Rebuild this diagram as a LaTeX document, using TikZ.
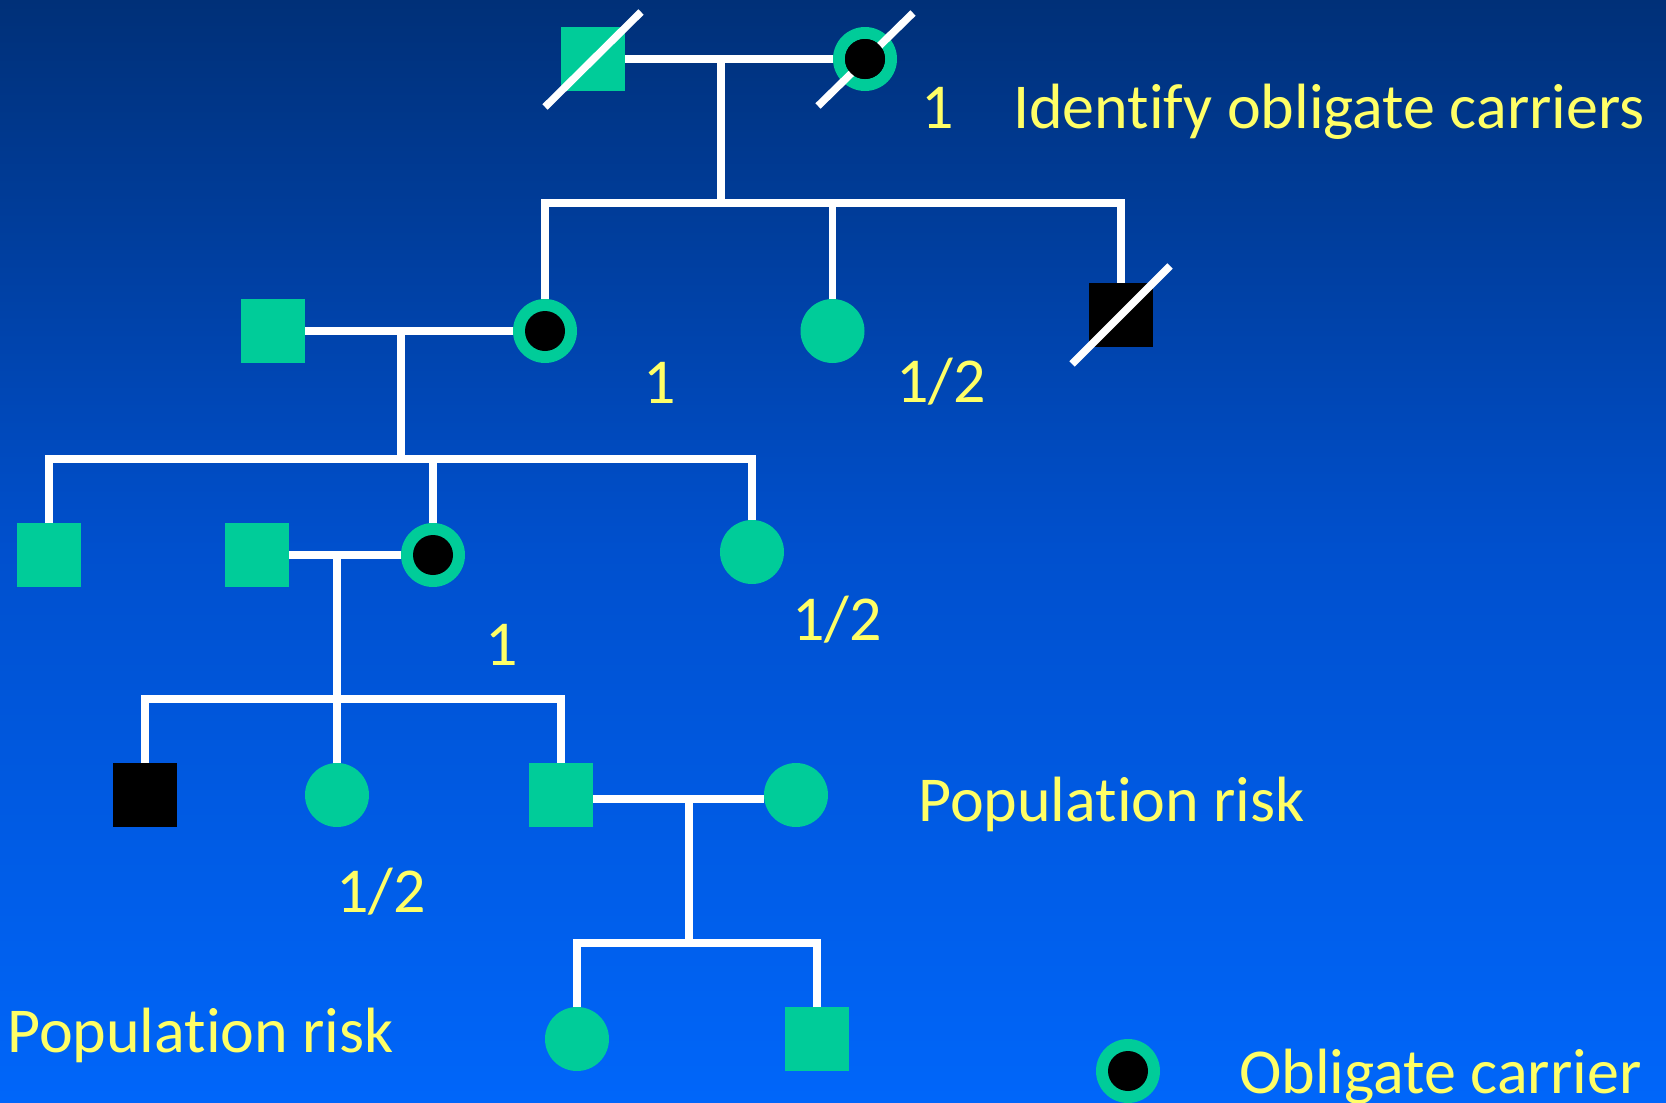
\documentclass[tikz,border=0pt]{standalone}
\usepackage{fontspec}
\setmainfont{Carlito}[Ligatures={NoCommon,NoContextual}]
\definecolor{pedgreen}{RGB}{0,204,153}
\definecolor{pedyellow}{RGB}{255,255,102}
\definecolor{bgtop}{RGB}{0,48,120}
\definecolor{bgmid}{RGB}{0,80,206}
\definecolor{bgbot}{RGB}{0,102,250}
\begin{document}
\begin{tikzpicture}[x=1pt,y=-1pt,
  male/.style={rectangle,minimum size=64pt,inner sep=0pt,fill=pedgreen},
  female/.style={circle,minimum size=64pt,inner sep=0pt,fill=pedgreen},
  affected/.style={fill=black},
  carrier/.style={female,path picture={\fill[black] (path picture bounding box.center) circle[radius=20pt];}},
  lnk/.style={draw=white,line width=7.5pt},
  slash/.style={draw=white,line width=7.5pt},
  lbl/.style={text=pedyellow,inner sep=0pt,font=\fontsize{64}{72}\selectfont}]
% background
\shade[top color=bgtop,bottom color=bgbot,middle color=bgmid] (0,0) rectangle (1666,1103);
\useasboundingbox (0,0) rectangle (1666,1103);

% generation I
\node[male] (I1) at (593,59) {};
\node[carrier] (I2) at (865,59) {};
\coordinate (m1) at (721,59);
\coordinate (s1) at (721,203);

% generation II
\node[male] (II0) at (273,331) {};
\node[carrier] (II1) at (545,331) {};
\node[female] (II2) at (832.5,331) {};
\node[male,affected] (II3) at (1121,315) {};
\coordinate (m2) at (401,331);
\coordinate (s2) at (401,459);

% generation III
\node[male] (III1) at (49,555) {};
\node[male] (III0) at (257,555) {};
\node[carrier] (III2) at (433,555) {};
\node[female] (III3) at (752,552) {};
\coordinate (m3) at (337,555);
\coordinate (s3) at (337,699);

% generation IV
\node[male,affected] (IV1) at (145,795) {};
\node[female] (IV2) at (337,795) {};
\node[male] (IV3) at (561,795) {};
\node[female] (IV4) at (796,795) {};
\coordinate (m4) at (689,799);
\coordinate (s4) at (689,943);

% generation V
\node[female] (V1) at (577,1039) {};
\node[male] (V2) at (817,1039) {};

% legend symbol
\node[carrier] (key) at (1128,1071) {};

% marriages and descent lines
\draw[lnk] (I1.east) -- (I2.west);
\draw[lnk] (m1) -- (s1);
\draw[lnk] (II1.north) -- (II1.north |- s1) -- (II3.north |- s1) -- (II3.north);
\draw[lnk] (II2.north) -- (II2.north |- s1);

\draw[lnk] (II0.east) -- (II1.west);
\draw[lnk] (m2) -- (s2);
\draw[lnk] (III1.north) -- (III1.north |- s2) -- (III3.north |- s2) -- (III3.north);
\draw[lnk] (III2.north) -- (III2.north |- s2);

\draw[lnk] (III0.east) -- (III2.west);
\draw[lnk] (m3) -- (s3);
\draw[lnk] (IV1.north) -- (IV1.north |- s3) -- (IV3.north |- s3) -- (IV3.north);
\draw[lnk] (IV2.north) -- (IV2.north |- s3);

\draw[lnk] ([yshift=-4pt]IV3.east) -- ([yshift=-4pt]IV4.west);
\draw[lnk] (m4) -- (s4);
\draw[lnk] (V1.north) -- (V1.north |- s4) -- (V2.north |- s4) -- (V2.north);

% deceased marks (the carrier dot of I2 lies above its mark)
\draw[slash] ([shift={(-48,48)}]I1.center) -- ([shift={(48,-47)}]I1.center);
\draw[slash] ([shift={(-47,47)}]I2.center) -- ([shift={(48,-46)}]I2.center);
\fill[black] (I2.center) circle[radius=20pt];
\draw[slash] ([shift={(-49,49)}]II3.center) -- ([shift={(49,-49)}]II3.center);

% carrier probabilities and notes
\node[lbl,anchor=base] (p1) at (938,128) {1};
\node[lbl,anchor=base west] (t1) at (1013,128) {Identify obligate carriers};
\node[lbl,anchor=base] (p2) at (660,403) {1};
\node[lbl,anchor=base] (p3) at (941,402) {1/2};
\node[lbl,anchor=base] (p4) at (502,665) {1};
\node[lbl,anchor=base] (p5) at (837,640) {1/2};
\node[lbl,anchor=base] (p6) at (381,912) {1/2};
\node[lbl,anchor=base west] (t2) at (918,821) {Population risk};
\node[lbl,anchor=base west] (t3) at (7,1052) {Population risk};
\node[lbl,anchor=base west] (t4) at (1239,1093) {Obligate carrier};
\end{tikzpicture}
\end{document}
